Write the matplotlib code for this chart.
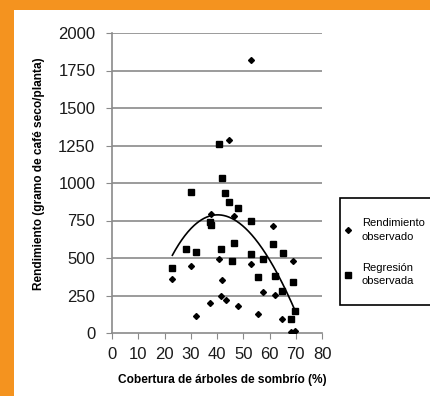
import matplotlib.pyplot as plt
from matplotlib.patches import Rectangle
import numpy as np

# rendimiento observado (diamonds)
obs_x = [53.0, 44.6, 37.7, 46.3, 61.2, 23.0, 30.1, 40.8, 41.8, 52.8, 69.1,
         32.0, 37.3, 41.7, 43.5, 48.0, 55.6, 57.4, 62.1, 64.8, 68.1, 69.9]
obs_y = [1820, 1284, 791, 778, 715, 362, 449, 493, 355, 460, 482,
         113, 198, 249, 220, 178, 129, 271, 256, 91, 9, 12]

# regresion observada (squares)
reg_x = [40.9, 41.8, 43.2, 44.4, 48.0, 30.1, 52.8, 37.3, 37.7, 46.6, 41.7,
         28.2, 32.0, 23.0, 45.8, 52.8, 57.4, 61.2, 65.0, 55.6, 62.1, 69.1,
         64.8, 68.2, 69.9]
reg_y = [1260, 1031, 936, 873, 836, 942, 749, 738, 718, 598, 560,
         558, 538, 436, 478, 527, 493, 596, 531, 376, 380, 338,
         280, 93, 149]

# trend curve
curve_x = [23.0, 27.8, 32.9, 41.1, 46.9, 53.2, 58.3, 63.4, 67.2, 70.0]
curve_y = [527, 642, 731, 787, 765, 665, 531, 365, 242, 153]

xticks = [0, 10, 20, 30, 40, 50, 60, 70, 80]
yticks = [0, 250, 500, 750, 1000, 1250, 1500, 1750, 2000]

orange = '#F4931F'
grey = '#8a8a8a'

plt.rcParams['font.family'] = ['Liberation Sans', 'DejaVu Sans']

fig = plt.figure(figsize=(4.30, 3.96), dpi=100)
fig.patch.set_facecolor(orange)
fig.patches.append(Rectangle((14 / 430, 0), 1, 1 - 10 / 396,
                             transform=fig.transFigure, facecolor='white',
                             edgecolor='none', zorder=-10))

ax = fig.add_axes([112 / 430, 63 / 396, 210 / 430, 300 / 396])
ax.set_facecolor('none')

for yv in yticks[1:]:
    ax.axhline(yv, color=grey, lw=1.2, zorder=1)

coef = np.polyfit(curve_x, curve_y, 3)
xs = np.linspace(curve_x[0], curve_x[-1], 200)
ax.plot(xs, np.polyval(coef, xs), color='black', lw=1.2, zorder=2)

ax.plot(obs_x, obs_y, 'D', color='black', ms=3.0, ls='none', zorder=3,
        label='Rendimiento\nobservado')
ax.plot(reg_x, reg_y, 's', color='black', ms=4.0, ls='none', zorder=3,
        label='Regresión\nobservada')

ax.set_xlim(0, 80)
ax.set_ylim(0, 2000)
ax.set_xticks(xticks)
ax.set_yticks(yticks)
ax.tick_params(axis='both', direction='out', length=4, color=grey,
               labelsize=12, labelcolor='#1a1a1a')
ax.tick_params(axis='x', pad=6)
ax.tick_params(axis='y', pad=8)
for s in ['top', 'right']:
    ax.spines[s].set_visible(False)
for s in ['left', 'bottom']:
    ax.spines[s].set_color(grey)
    ax.spines[s].set_linewidth(1.2)

fig.text(39 / 430, 1 - 174 / 396, 'Rendimiento (gramo de café seco/planta)',
         rotation=90, ha='center', va='center', fontsize=8.6, fontweight='bold')
fig.text(222 / 430, 1 - 380 / 396, 'Cobertura de árboles de sombrío (%)',
         ha='center', va='center', fontsize=8.6, fontweight='bold')

# legend box, running off the right edge
fig.patches.append(Rectangle((340 / 430, 1 - 305 / 396), 100 / 430, 107 / 396,
                             transform=fig.transFigure, facecolor='white',
                             edgecolor='black', lw=1.2, zorder=5))
leg = fig.legend(loc='upper left', bbox_to_anchor=(345 / 430, 1 - 218 / 396),
                 fontsize=8, frameon=False, handlelength=0.6,
                 handletextpad=0.9, labelspacing=1.9, borderpad=0,
                 borderaxespad=0)
leg.set_zorder(6)
for t in leg.get_texts():
    t.set_linespacing(1.45)

fig.savefig('out.png', dpi=100, facecolor=fig.get_facecolor())
